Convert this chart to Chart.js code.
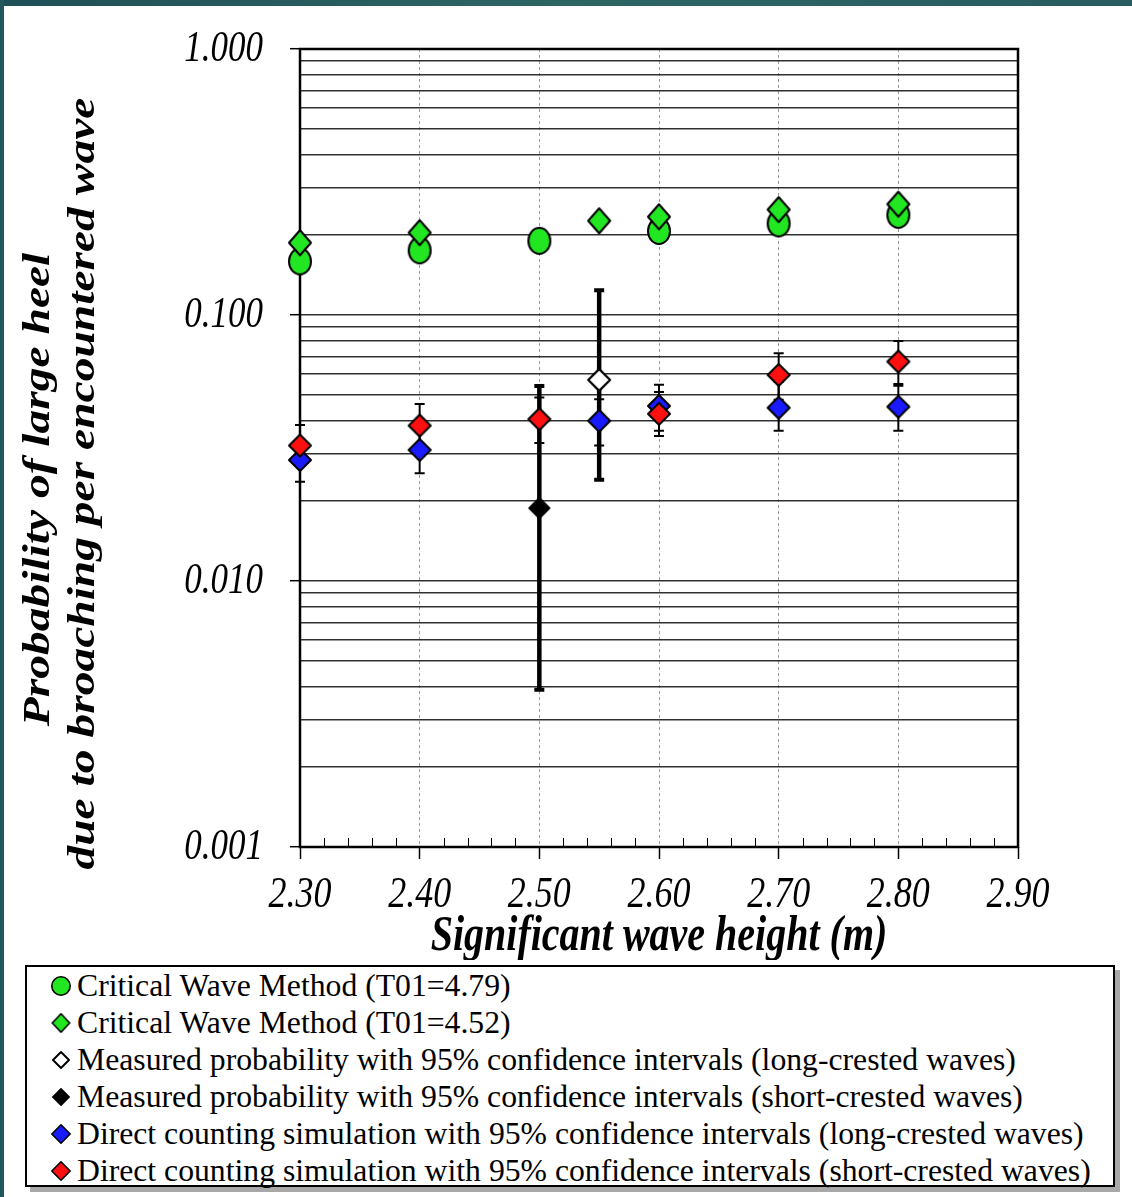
<!DOCTYPE html>
<html><head><meta charset="utf-8">
<script src="https://cdn.jsdelivr.net/npm/chart.js@4.4.1/dist/chart.umd.min.js"></script>
<style>
html,body{margin:0;padding:0;background:#fff;width:1132px;height:1197px;overflow:hidden;}
#topbar{position:absolute;left:0;top:0;width:1132px;height:6px;background:linear-gradient(90deg,#1f4f56,#2e6664 50%,#285c60);z-index:5}
#leftbar{position:absolute;left:0;top:0;width:4px;height:1197px;background:#22575c;z-index:5}
#wrap{position:absolute;left:0;top:0;width:1132px;height:960px}
#legend{position:absolute;left:25px;top:965px;width:1086px;height:218px;border:2px solid #000;background:#fff;box-shadow:5px 5px 0 #a8a8a8;font-family:"Liberation Serif","Times New Roman",serif;font-size:31.7px;line-height:37px;color:#000;overflow:visible}
.item{position:relative;height:37px;white-space:nowrap;padding-left:50px}
.item img{position:absolute;top:50%;transform:translate(-50%,-50%);left:34px}
</style>
</head><body>
<div id="topbar"></div><div id="leftbar"></div>
<div id="wrap"><canvas id="c" width="1132" height="960"></canvas></div>
<div id="legend"></div>
<script>
// ---- data ----
const xTicks = [2.30, 2.40, 2.50, 2.60, 2.70, 2.80, 2.90];
const yDecades = [0.001, 0.01, 0.1, 1];
const seriesLabels = [
  "Critical Wave Method (T01=4.79)",
  "Critical Wave Method (T01=4.52)",
  "Measured probability with 95% confidence intervals (long-crested waves)",
  "Measured probability with 95% confidence intervals (short-crested waves)",
  "Direct counting simulation with 95% confidence intervals (long-crested waves)",
  "Direct counting simulation with 95% confidence intervals (short-crested waves)"
];
const cwm479X = [2.30, 2.40, 2.50, 2.60, 2.70, 2.80];
const cwm479Y = [0.159, 0.175, 0.190, 0.207, 0.221, 0.238];
const cwm452X = [2.30, 2.40, 2.55, 2.60, 2.70, 2.80];
const cwm452Y = [0.187, 0.204, 0.226, 0.234, 0.249, 0.261];
const measLongX = [2.55];
const measLongY = [0.057];
const measLongLow = [0.024];
const measLongHigh = [0.124];
const measShortX = [2.50];
const measShortY = [0.0188];
const measShortLow = [0.0039];
const measShortHigh = [0.0541];
const simLongX = [2.30, 2.40, 2.55, 2.60, 2.70, 2.80];
const simLongY = [0.0285, 0.0311, 0.0400, 0.0455, 0.0448, 0.0452];
const simLongLow = [0.0236, 0.0254, 0.0323, 0.0367, 0.0367, 0.0367];
const simLongHigh = [0.033, 0.037, 0.0482, 0.0547, 0.056, 0.055];
const simShortX = [2.30, 2.40, 2.50, 2.60, 2.70, 2.80];
const simShortY = [0.0323, 0.0384, 0.0406, 0.0425, 0.0595, 0.0668];
const simShortLow = [0.028, 0.032, 0.033, 0.0351, 0.048, 0.0542];
const simShortHigh = [0.0386, 0.0463, 0.049, 0.0514, 0.0718, 0.0798];

// ---- marker images ----
function makePoint(w, h, shape, fill, lw) {
  const m = 2;
  const c = document.createElement('canvas');
  c.width = w + 2 * m; c.height = h + 2 * m;
  const g = c.getContext('2d');
  const cx = c.width / 2, cy = c.height / 2, rx = w / 2 - lw / 2, ry = h / 2 - lw / 2;
  g.beginPath();
  if (shape === 'ellipse') g.ellipse(cx, cy, rx, ry, 0, 0, Math.PI * 2);
  else { g.moveTo(cx, cy - ry); g.lineTo(cx + rx, cy); g.lineTo(cx, cy + ry); g.lineTo(cx - rx, cy); g.closePath(); }
  g.fillStyle = fill; g.fill();
  g.lineWidth = lw; g.strokeStyle = '#000'; g.lineJoin = 'round'; g.stroke();
  return c;
}
const GREEN = '#22e622', BLUE = '#1a1aff', RED = '#ff1010';
const pts = [
  makePoint(24, 28, 'ellipse', GREEN, 2),
  makePoint(24, 27, 'diamond', GREEN, 2),
  makePoint(24, 24, 'diamond', '#ffffff', 2.2),
  makePoint(22, 22, 'diamond', '#000000', 2),
  makePoint(24, 24, 'diamond', BLUE, 2),
  makePoint(24, 24, 'diamond', RED, 2)
];
const legendPts = [
  makePoint(20, 20, 'ellipse', GREEN, 1.6),
  makePoint(19, 20, 'diamond', GREEN, 1.6),
  makePoint(18, 18, 'diamond', '#ffffff', 2),
  makePoint(18, 18, 'diamond', '#000000', 1.6),
  makePoint(20, 20, 'diamond', BLUE, 1.6),
  makePoint(20, 20, 'diamond', RED, 1.6)
];
const zip = (xs, ys) => xs.map((x, i) => ({x: x, y: ys[i]}));

const yTickValues = [];
for (let d = 0; d < yDecades.length - 1; d++) {
  for (let m = 1; m <= 9; m++) yTickValues.push(+(m * yDecades[d]).toPrecision(3));
}
yTickValues.push(yDecades[yDecades.length - 1]);
const isDecade = v => yDecades.some(d => Math.abs(d - v) < 1e-12);

// text in the original figure is stretched vertically; reproduce by a vertical scale about the text anchor
const canvas = document.getElementById('c');
const c2d = canvas.getContext('2d');
const TEXT_STRETCH = 1.25;
const nativeFill = c2d.fillText;
c2d.fillText = function (t, x, y, mw) {
  const m = this.getTransform();
  const p = m.transformPoint(new DOMPoint(x, y));
  this.save();
  this.setTransform(new DOMMatrix().translate(p.x, p.y).scale(1, TEXT_STRETCH).translate(-p.x, -p.y).multiply(m));
  if (mw === undefined || mw === null || isNaN(mw)) nativeFill.call(this, t, x, y);
  else nativeFill.call(this, t, x, y, mw);
  this.restore();
};

const extras = {
  id: 'extras',
  beforeDatasetsDraw(chart) {
    const {ctx, chartArea: a, scales: {x, y}} = chart;
    ctx.save();
    // minor x ticks (inside, upward)
    ctx.strokeStyle = '#000'; ctx.lineWidth = 1;
    for (let k = 0; k <= 30; k++) {
      if (k % 5 === 0) continue;
      const px = Math.round(x.getPixelForValue(xTicks[0] + k * 0.02)) + 0.5;
      ctx.beginPath(); ctx.moveTo(px, a.bottom); ctx.lineTo(px, a.bottom - 9); ctx.stroke();
    }
    // frame
    ctx.lineWidth = 2.5; ctx.strokeStyle = '#000';
    ctx.strokeRect(a.left, a.top, a.right - a.left, a.bottom - a.top);
    // error bars
    chart.data.datasets.forEach(ds => {
      if (!ds.errLow) return;
      const thick = ds.errThick;
      ds.data.forEach((p, i) => {
        const px = x.getPixelForValue(p.x);
        const yl = y.getPixelForValue(ds.errLow[i]);
        const yh = y.getPixelForValue(ds.errHigh[i]);
        ctx.strokeStyle = '#000';
        ctx.lineWidth = thick ? 4.5 : 2;
        ctx.beginPath(); ctx.moveTo(px, yl); ctx.lineTo(px, yh); ctx.stroke();
        ctx.lineWidth = thick ? 4 : 2;
        const hw = 5;
        ctx.beginPath();
        ctx.moveTo(px - hw, yl); ctx.lineTo(px + hw, yl);
        ctx.moveTo(px - hw, yh); ctx.lineTo(px + hw, yh);
        ctx.stroke();
      });
    });
    ctx.restore();
  }
};

const TF = '"Liberation Serif", "Times New Roman", serif';
const chart = new Chart(canvas, {
  type: 'scatter',
  data: {
    datasets: [
      {label: seriesLabels[0], data: zip(cwm479X, cwm479Y), pointStyle: pts[0], order: 5},
      {label: seriesLabels[1], data: zip(cwm452X, cwm452Y), pointStyle: pts[1], order: 4},
      {label: seriesLabels[2], data: zip(measLongX, measLongY), pointStyle: pts[2], order: 3, errLow: measLongLow, errHigh: measLongHigh, errThick: true},
      {label: seriesLabels[3], data: zip(measShortX, measShortY), pointStyle: pts[3], order: 3, errLow: measShortLow, errHigh: measShortHigh, errThick: true},
      {label: seriesLabels[4], data: zip(simLongX, simLongY), pointStyle: pts[4], order: 2, errLow: simLongLow, errHigh: simLongHigh},
      {label: seriesLabels[5], data: zip(simShortX, simShortY), pointStyle: pts[5], order: 1, errLow: simShortLow, errHigh: simShortHigh}
    ].map(d => Object.assign({showLine: false, clip: false, pointRadius: 12, pointHoverRadius: 12}, d))
  },
  options: {
    responsive: false,
    animation: false,
    devicePixelRatio: 1,
    events: [],
    layout: {padding: {left: 0, top: 49, right: 114, bottom: 0}},
    plugins: {legend: {display: false}, tooltip: {enabled: false}},
    scales: {
      x: {
        type: 'linear', min: xTicks[0], max: xTicks[xTicks.length - 1],
        afterBuildTicks: s => { s.ticks = xTicks.map(v => ({value: v})); },
        afterFit: s => { s.height = 113; },
        border: {display: false, dash: [3, 3]},
        grid: {color: '#9a9a9a', lineWidth: 1, tickLength: 12, tickColor: '#000', tickWidth: 1.5, tickBorderDash: []},
        ticks: {color: '#000', padding: 15, maxRotation: 0, autoSkip: false,
          font: {family: TF, size: 36, style: 'italic'},
          callback: v => Number(v).toFixed(2)},
        title: {display: true, text: 'Significant wave height (m)', color: '#000',
          font: {family: TF, size: 40, style: 'italic', weight: 'bold', lineHeight: '44px'},
          padding: {top: 0, bottom: 1}}
      },
      y: {
        type: 'logarithmic', min: yDecades[0], max: yDecades[yDecades.length - 1],
        afterBuildTicks: s => { s.ticks = yTickValues.map(v => ({value: v})); },
        afterFit: s => { s.width = 300; },
        border: {display: false},
        grid: {color: '#303030', lineWidth: 1.4, tickLength: 10,
          tickColor: c => (c.tick && isDecade(c.tick.value)) ? '#000' : 'rgba(0,0,0,0)', tickWidth: 1.5},
        ticks: {color: '#000', padding: 27, autoSkip: false,
          font: {family: TF, size: 35, style: 'italic'},
          callback: v => isDecade(v) ? Number(v).toFixed(3) : ''},
        title: {display: true,
          text: ['Probability of large heel       ', 'due to broaching per encountered wave      '],
          color: '#000',
          font: {family: TF, size: 38, style: 'italic', weight: 'bold', lineHeight: '45px'},
          padding: {top: 17, bottom: 0}}
      }
    }
  },
  plugins: [extras]
});

// HTML legend built from the chart datasets
const lg = document.getElementById('legend');
chart.data.datasets.forEach((ds, i) => {
  const row = document.createElement('div'); row.className = 'item';
  const img = document.createElement('img'); img.src = legendPts[i].toDataURL();
  img.width = legendPts[i].width; img.height = legendPts[i].height;
  row.appendChild(img);
  row.appendChild(document.createTextNode(ds.label));
  lg.appendChild(row);
});
</script>
</body></html>
